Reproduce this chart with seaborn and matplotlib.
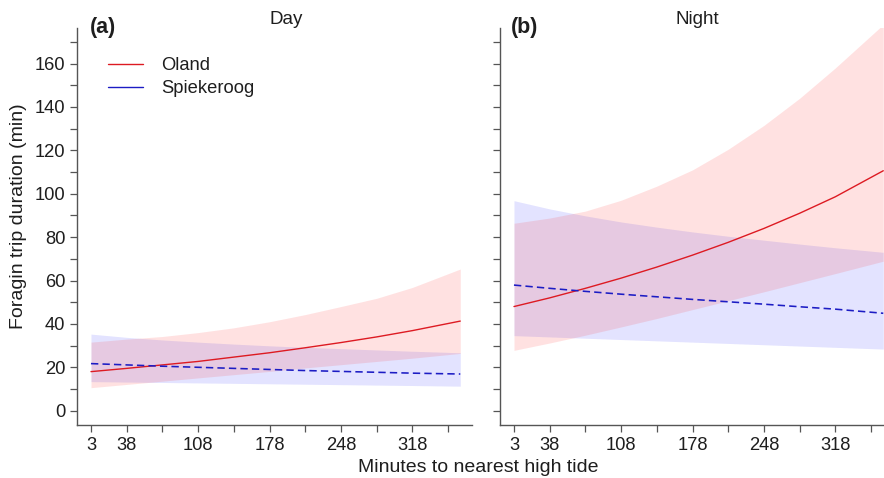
import matplotlib
matplotlib.use("Agg")
import matplotlib.pyplot as plt
from matplotlib.lines import Line2D
from matplotlib.ticker import MultipleLocator
import pandas as pd
import seaborn as sns

# Minutes to nearest high tide at which model predictions are given
minutes = [3, 38, 73, 108, 143, 178, 213, 248, 283, 318, 365]

# Day: fitted foraging trip duration (min) and 95% confidence band
oland_day = [18.0, 19.5, 21.1, 22.7, 24.7, 26.7, 29.0, 31.4, 34.0, 36.9, 41.3]
oland_day_lo = [10.6, 12.1, 13.6, 15.1, 16.6, 18.1, 19.7, 21.2, 22.7, 24.2, 26.4]
oland_day_hi = [31.6, 33.0, 34.2, 36.0, 38.2, 41.0, 44.3, 48.0, 51.8, 56.8, 65.3]
spiek_day = [21.7, 21.1, 20.5, 20.0, 19.5, 19.0, 18.5, 18.1, 17.7, 17.3, 16.9]
spiek_day_lo = [13.4, 13.2, 13.0, 12.8, 12.6, 12.4, 12.2, 12.0, 11.8, 11.6, 11.3]
spiek_day_hi = [35.3, 33.8, 32.6, 31.6, 30.7, 29.9, 29.2, 28.6, 28.0, 27.4, 26.7]

# Night: fitted foraging trip duration (min) and 95% confidence band
oland_night = [48.0, 52.0, 56.4, 61.1, 66.2, 71.7, 77.6, 84.0, 91.0, 98.6, 110.6]
oland_night_lo = [27.8, 31.2, 34.8, 38.6, 42.5, 46.6, 50.7, 54.8, 59.0, 63.2, 68.9]
oland_night_hi = [86.4, 88.8, 92.0, 97.0, 103.5, 111.0, 120.5, 131.5, 144.0, 158.0, 178.0]
spiek_night = [57.9, 56.4, 55.0, 53.7, 52.5, 51.3, 50.2, 49.1, 47.9, 46.8, 44.9]
spiek_night_lo = [34.6, 34.0, 33.4, 32.8, 32.2, 31.6, 31.0, 30.4, 29.8, 29.2, 28.4]
spiek_night_hi = [96.8, 93.0, 89.8, 87.0, 84.6, 82.4, 80.4, 78.6, 76.8, 75.1, 73.0]

sites = ["Oland", "Spiekeroog"]
panels = ["Day", "Night"]
panel_tags = ["(a)", "(b)"]

x_ticks = [3, 38, 73, 108, 143, 178, 213, 248, 283, 318, 353]
x_tick_labels = ["3", "38", "", "108", "", "178", "", "248", "", "318", ""]

series = {
    ("Day", "Oland"): (oland_day, oland_day_lo, oland_day_hi),
    ("Day", "Spiekeroog"): (spiek_day, spiek_day_lo, spiek_day_hi),
    ("Night", "Oland"): (oland_night, oland_night_lo, oland_night_hi),
    ("Night", "Spiekeroog"): (spiek_night, spiek_night_lo, spiek_night_hi),
}

rows = []
for (period, site), (fit, lo, hi) in series.items():
    for m, f, l, h in zip(minutes, fit, lo, hi):
        rows.append({"period": period, "site": site, "minutes": m,
                     "duration": f, "lower": l, "upper": h})
df = pd.DataFrame(rows)

line_colors = {"Oland": "#DD1A22", "Spiekeroog": "#1C1CC4"}
band_colors = {"Oland": "#FF1E1E", "Spiekeroog": "#2828FF"}
dash_styles = {"Oland": "", "Spiekeroog": (4.6, 2.6)}
line_widths = {"Oland": 1.0, "Spiekeroog": 1.15}

sns.set_theme(style="ticks")
plt.rcParams["font.family"] = ["Liberation Sans", "DejaVu Sans"]
text_color = "#1e1e1e"
axis_color = "#555555"
tick_size = 13.2

fig = plt.figure(figsize=(8.84, 4.78), dpi=100)
W, H = 884, 478
ax_w = (472 - 77) / W
ax_h = (425 - 28) / H
ax_bottom = (H - 425) / H
axes = [fig.add_axes([77 / W, ax_bottom, ax_w, ax_h]),
        fig.add_axes([500 / W, ax_bottom, ax_w, ax_h])]

for ax, period, tag in zip(axes, panels, panel_tags):
    sub = df[df["period"] == period]
    for site in ["Spiekeroog", "Oland"]:
        s = sub[sub["site"] == site]
        ax.fill_between(s["minutes"], s["lower"], s["upper"],
                        color=band_colors[site], alpha=0.13, linewidth=0)
    for site in ["Oland", "Spiekeroog"]:
        s = sub[sub["site"] == site]
        sns.lineplot(data=s, x="minutes", y="duration", ax=ax,
                     color=line_colors[site], linewidth=line_widths[site],
                     dashes=False, legend=False)
        if dash_styles[site]:
            ax.lines[-1].set_dashes(dash_styles[site])

    ax.set_xlim(-10.7, 376.5)
    ax.set_ylim(-6.6, 176.4)
    ax.set_xticks(x_ticks)
    ax.set_xticklabels(x_tick_labels)
    ax.yaxis.set_major_locator(MultipleLocator(20))
    ax.yaxis.set_minor_locator(MultipleLocator(10))
    ax.tick_params(axis="both", which="both", direction="out", length=5,
                   width=0.9, color=axis_color, labelsize=tick_size,
                   labelcolor=text_color, pad=3.5)
    for side in ["top", "right"]:
        ax.spines[side].set_visible(False)
    for side in ["left", "bottom"]:
        ax.spines[side].set_color(axis_color)
        ax.spines[side].set_linewidth(1.0)
    ax.set_xlabel("")
    ax.set_ylabel("")
    ax.set_facecolor("white")

axes[1].tick_params(axis="y", which="both", labelleft=False)

axes[0].set_ylabel("Foragin trip duration (min)", fontsize=14,
                   color=text_color)
axes[0].yaxis.set_label_coords((27 - 77) / (472 - 77), (425 - 216) / (425 - 28))
fig.text(478 / W, 1 - 467 / H, "Minutes to nearest high tide",
         ha="center", va="center", fontsize=14, color=text_color)

fig.text(103 / W, 1 - 28 / H, "(a)", ha="center", va="center",
         fontsize=15.5, fontweight="bold", color=text_color)
fig.text(286 / W, 1 - 19 / H, "Day", ha="center", va="center",
         fontsize=13.5, color=text_color)
fig.text(525 / W, 1 - 28 / H, "(b)", ha="center", va="center",
         fontsize=15.5, fontweight="bold", color=text_color)
fig.text(697 / W, 1 - 19 / H, "Night", ha="center", va="center",
         fontsize=13.5, color=text_color)

handles = [Line2D([], [], color=line_colors[s], linewidth=1.0) for s in sites]
axes[0].legend(handles, sites, loc="upper left",
               bbox_to_anchor=((108 - 77) / (472 - 77), (425 - 57) / (425 - 28)),
               frameon=False, fontsize=tick_size, handlelength=1.9,
               handletextpad=1.0, labelspacing=0.33, borderpad=0,
               borderaxespad=0, labelcolor=text_color)

fig.savefig("out.png", dpi=100, facecolor="white")
